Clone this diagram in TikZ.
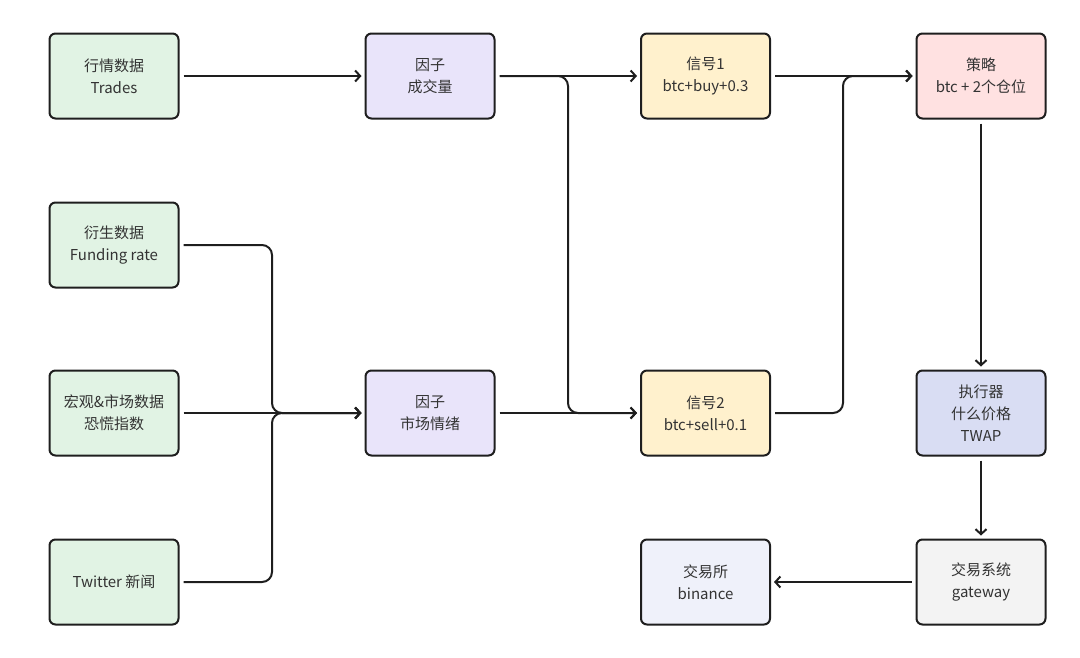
\documentclass[tikz,border=0pt]{standalone}
\usepackage{fontspec}
\setmainfont{Noto Sans CJK SC}
\usetikzlibrary{arrows.meta}
\definecolor{cgreen}{HTML}{E1F3E4}
\definecolor{cpurple}{HTML}{E9E4FA}
\definecolor{cyellow}{HTML}{FFF1CD}
\definecolor{cpink}{HTML}{FFE1E1}
\definecolor{cblue}{HTML}{D9DDF3}
\definecolor{cgrey}{HTML}{F3F3F3}
\definecolor{cpale}{HTML}{EFF1FA}
\definecolor{cborder}{HTML}{1E1E1E}
\definecolor{ctext}{HTML}{333333}
\tikzset{
  box/.style={draw=cborder, line width=2pt, rounded corners=6pt,
    minimum width=129pt, minimum height=85pt, align=center,
    text=ctext, font=\fontsize{15}{22}\selectfont, inner sep=2pt},
  conn/.style={draw=cborder, line width=2pt, rounded corners=10pt,
    -{Straight Barb[length=5pt,width=11pt]}, shorten >=3pt, shorten <=4pt}
}
\begin{document}
\begin{tikzpicture}[x=1pt,y=-1pt]
\useasboundingbox (0,0) rectangle (1080,657);
% column 1
\node[box, fill=cgreen] (hq) at (114,76) {行情数据\\Trades};
\node[box, fill=cgreen] (ys) at (114,245) {衍生数据\\Funding rate};
\node[box, fill=cgreen] (hg) at (114,413) {宏观\&市场数据\\恐慌指数};
\node[box, fill=cgreen] (tw) at (114,582) {Twitter 新闻};
% column 2
\node[box, fill=cpurple] (f1) at (430,76) {因子\\成交量};
\node[box, fill=cpurple] (f2) at (430,413) {因子\\市场情绪};
% column 3
\node[box, fill=cyellow] (s1) at (705.5,76) {信号1\\btc+buy+0.3};
\node[box, fill=cyellow] (s2) at (705.5,413) {信号2\\btc+sell+0.1};
\node[box, fill=cpale] (ex) at (705.5,582) {交易所\\binance};
% column 4
\node[box, fill=cpink] (cl) at (981,76) {策略\\btc + 2个仓位};
\node[box, fill=cblue] (zx) at (981,413) {执行器\\什么价格\\TWAP};
\node[box, fill=cgrey] (gw) at (981,582) {交易系统\\gateway};
% junction columns
\coordinate (ja) at (272,0);
\coordinate (jb) at (568,0);
\coordinate (jc) at (843,0);
% connectors
\draw[conn] (hq) -- (f1);
\draw[conn] (hg) -- (f2);
\draw[conn] (ys.east) -- (ys.east -| ja) -- (f2.west -| ja) -- (f2.west);
\draw[conn] (tw.east) -- (tw.east -| ja) -- (f2.west -| ja) -- (f2.west);
\draw[conn] (f1) -- (s1);
\draw[conn] (f2) -- (s2);
\draw[conn] (f1.east) -- (f1.east -| jb) -- (s2.west -| jb) -- (s2.west);
\draw[conn] (s1) -- (cl);
\draw[conn] (s2.east) -- (s2.east -| jc) -- (cl.west -| jc) -- (cl.west);
\draw[conn] (cl) -- (zx);
\draw[conn] (zx) -- (gw);
\draw[conn] (gw) -- (ex);
\end{tikzpicture}
\end{document}
